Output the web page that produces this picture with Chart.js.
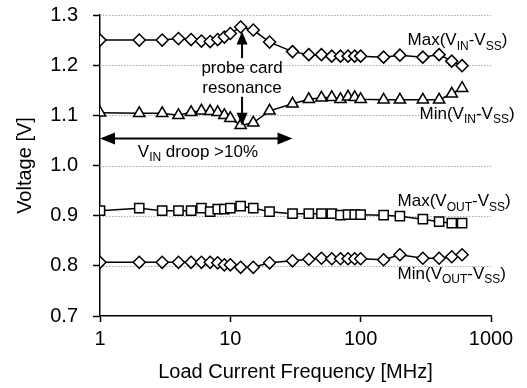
<!DOCTYPE html>
<html>
<head>
<meta charset="utf-8">
<script src="https://cdn.jsdelivr.net/npm/chart.js@4/dist/chart.umd.min.js"></script>
<style>
  html, body { margin: 0; padding: 0; background: #fff; }
  #wrap { width: 527px; height: 388px; }
</style>
</head>
<body>
<div id="wrap"><canvas id="c" width="527" height="388"></canvas></div>
<script>
// ---- data ----
const freqMHz = [1,2,3,4,5,6,7,8,9,10,12,15,20,30,40,50,60,70,80,90,100,150,200,300,400,500,600];
const maxVin  = [1.250,1.250,1.250,1.253,1.251,1.248,1.247,1.251,1.256,1.263,1.276,1.270,1.246,1.227,1.221,1.221,1.218,1.218,1.218,1.218,1.218,1.216,1.220,1.216,1.221,1.208,1.199];
const minVin  = [1.105,1.104,1.104,1.100,1.106,1.109,1.108,1.106,1.100,1.094,1.080,1.085,1.109,1.123,1.132,1.135,1.136,1.132,1.137,1.136,1.132,1.131,1.131,1.131,1.131,1.143,1.154];
const maxVout = [0.910,0.915,0.910,0.910,0.910,0.915,0.908,0.913,0.913,0.915,0.919,0.915,0.908,0.904,0.904,0.904,0.904,0.901,0.902,0.902,0.902,0.901,0.899,0.893,0.888,0.885,0.885];
const minVout = [0.807,0.807,0.807,0.807,0.807,0.807,0.807,0.806,0.802,0.802,0.797,0.797,0.806,0.810,0.813,0.815,0.814,0.814,0.814,0.814,0.814,0.812,0.822,0.815,0.815,0.818,0.822];
const xTicks = [1,10,100,1000];
const yTicks = [0.7,0.8,0.9,1.0,1.1,1.2,1.3];

const FONT = "'Liberation Sans', Arial, sans-serif";

function mk(data, style, r) {
  return {
    data: freqMHz.map((f, i) => ({x: f, y: data[i]})),
    borderColor: '#000', borderWidth: 1.5, tension: 0,
    pointStyle: style, pointRadius: r, pointHoverRadius: r,
    pointBackgroundColor: '#fff', pointBorderColor: '#000', pointBorderWidth: 1.5
  };
}

// draw text with subscripts: parts = [[text, isSub], ...]
function richText(ctx, x, y, parts) {
  let cx = x;
  for (const [t, sub] of parts) {
    ctx.font = (sub ? '12px ' : '17px ') + FONT;
    ctx.fillText(t, cx, sub ? y + 6 : y);
    cx += ctx.measureText(t).width;
  }
}
function arrowHead(ctx, tipX, tipY, dx, dy, len, half) {
  const bx = tipX - dx * len, by = tipY - dy * len;
  ctx.beginPath();
  ctx.moveTo(tipX, tipY);
  ctx.lineTo(bx - dy * half, by + dx * half);
  ctx.lineTo(bx + dy * half, by - dx * half);
  ctx.closePath();
  ctx.fill();
}

const gridPlugin = {
  id: 'grid',
  beforeDatasetsDraw(chart) {
    const {ctx, chartArea: a, scales: {y}} = chart;
    ctx.save();
    ctx.strokeStyle = '#a8a8a8';
    ctx.lineWidth = 1;
    ctx.setLineDash([1.5, 1.5]);
    for (const v of yTicks) {
      if (v <= 0.7001) continue;
      const py = Math.round(y.getPixelForValue(v)) + 0.5;
      ctx.beginPath(); ctx.moveTo(a.left, py); ctx.lineTo(a.right, py); ctx.stroke();
    }
    ctx.restore();
  }
};

const annoPlugin = {
  id: 'anno',
  afterDraw(chart) {
    const {ctx, scales: {x, y}} = chart;
    const X = v => x.getPixelForValue(v), Y = v => y.getPixelForValue(v);
    ctx.save();
    ctx.fillStyle = '#000'; ctx.strokeStyle = '#000';
    ctx.textBaseline = 'middle'; ctx.textAlign = 'left';
    // series labels
    richText(ctx, X(229), Y(1.2497), [['Max(V',0],['IN',1],['-V',0],['SS',1],[')',0]]);
    richText(ctx, X(283), Y(1.1024), [['Min(V',0],['IN',1],['-V',0],['SS',1],[')',0]]);
    richText(ctx, X(192), Y(0.928), [['Max(V',0],['OUT',1],['-V',0],['SS',1],[')',0]]);
    richText(ctx, X(192), Y(0.784), [['Min(V',0],['OUT',1],['-V',0],['SS',1],[')',0]]);
    // probe card resonance
    ctx.textAlign = 'center';
    ctx.font = '17px ' + FONT;
    const px = X(12.3);
    ctx.fillText('probe card', px, Y(1.194));
    ctx.fillText('resonance', px, Y(1.154));
    ctx.lineWidth = 2;
    // up arrow
    ctx.beginPath(); ctx.moveTo(px, Y(1.214)); ctx.lineTo(px, Y(1.245)); ctx.stroke();
    arrowHead(ctx, px, Y(1.267), 0, -1, 13, 5.5);
    // down arrow
    ctx.beginPath(); ctx.moveTo(px, Y(1.137)); ctx.lineTo(px, Y(1.10)); ctx.stroke();
    arrowHead(ctx, px, Y(1.079), 0, 1, 13, 5.5);
    // droop double arrow
    const ay = Math.round(Y(1.054)) + 0.5;
    const x0 = X(1), x1 = X(30);
    ctx.beginPath(); ctx.moveTo(x0 + 10, ay); ctx.lineTo(x1 - 10, ay); ctx.stroke();
    arrowHead(ctx, x0, ay, -1, 0, 15, 6);
    arrowHead(ctx, x1, ay, 1, 0, 15, 6);
    ctx.textAlign = 'left';
    richText(ctx, X(1.95), Y(1.027), [['V',0],['IN',1],[' droop >10%',0]]);
    ctx.restore();
  }
};

new Chart(document.getElementById('c'), {
  type: 'line',
  data: {
    datasets: [
      mk(maxVin, 'rectRot', 6),
      mk(minVin, 'triangle', 6.5),
      mk(maxVout, 'rect', 6.5),
      mk(minVout, 'rectRot', 6)
    ]
  },
  options: {
    responsive: false,
    animation: false,
    events: [],
    layout: { autoPadding: false, padding: { left: 0, top: 15, right: 36, bottom: 0 } },
    plugins: { legend: { display: false }, tooltip: { enabled: false } },
    scales: {
      x: {
        type: 'logarithmic', min: 1, max: 1000,
        afterBuildTicks: s => { s.ticks = xTicks.map(v => ({value: v})); },
        afterFit: s => { s.height = 72; s.paddingLeft = 0; s.paddingRight = 0; },
        ticks: {
          color: '#000', font: { family: FONT, size: 20 }, padding: 5,
          maxRotation: 0, autoSkip: false,
          callback: v => String(v)
        },
        grid: { drawOnChartArea: false, drawTicks: true, tickLength: 6, tickColor: '#000', tickWidth: 1.5 },
        border: { display: true, color: '#000', width: 1.5 },
        title: { display: true, text: 'Load Current Frequency [MHz]', color: '#000',
                 font: { family: FONT, size: 20 }, padding: { top: 0, bottom: 4 } }
      },
      y: {
        type: 'linear', min: 0.7, max: 1.3,
        afterBuildTicks: s => { s.ticks = yTicks.map(v => ({value: v})); },
        afterFit: s => { s.width = 100; s.paddingTop = 0; s.paddingBottom = 0; },
        ticks: {
          color: '#000', font: { family: FONT, size: 20 }, padding: 15,
          callback: v => Number(v).toFixed(1)
        },
        grid: { drawOnChartArea: false, drawTicks: true, tickLength: 7, tickColor: '#000', tickWidth: 1.5 },
        border: { display: true, color: '#000', width: 1.5 },
        title: { display: true, text: 'Voltage [V]', color: '#000',
                 font: { family: FONT, size: 20 }, padding: { top: 13, bottom: 0 } }
      }
    }
  },
  plugins: [gridPlugin, annoPlugin]
});
</script>
</body>
</html>
